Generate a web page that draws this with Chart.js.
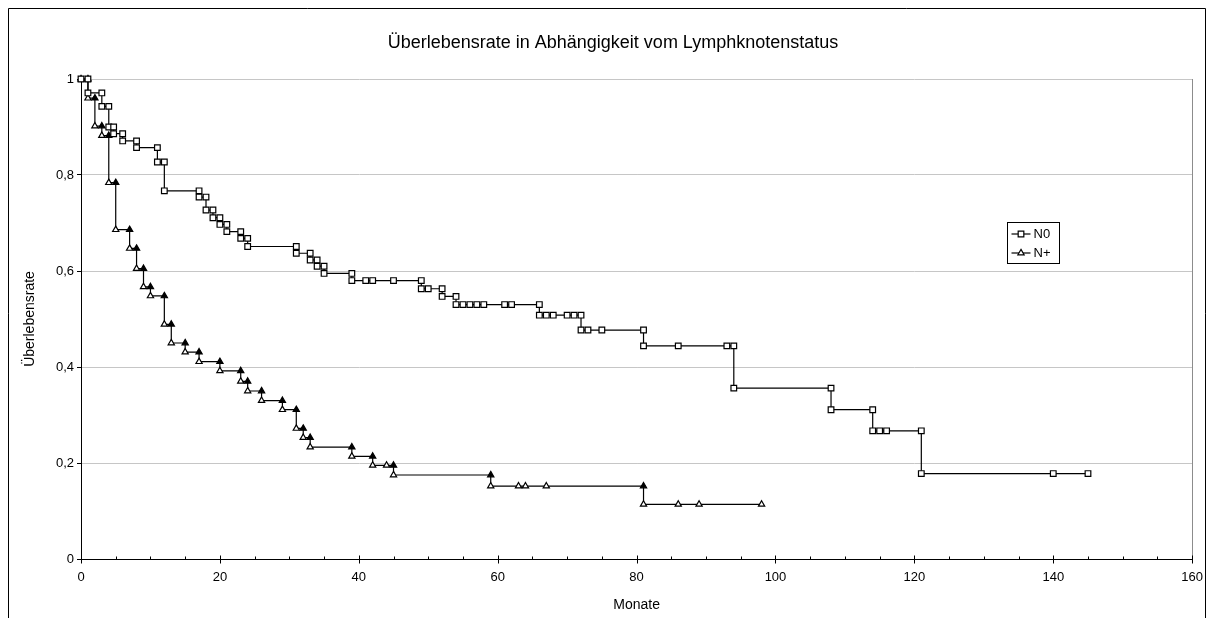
<!DOCTYPE html>
<html>
<head>
<meta charset="utf-8">
<script src="https://cdn.jsdelivr.net/npm/chart.js@4.4.1/dist/chart.umd.min.js"></script>
<style>
  html, body { margin: 0; padding: 0; background: #ffffff; }
  #wrap { width: 1214px; height: 618px; position: relative; }
</style>
</head>
<body>
<div id="wrap"><canvas id="c" width="1214" height="618"></canvas></div>
<script>
// Texts
const chartTitle = 'Überlebensrate in Abhängigkeit vom Lymphknotenstatus';
const xAxisTitle = 'Monate';
const yAxisTitle = 'Überlebensrate';
const seriesNames = ['N0', 'N+'];

// Axis ranges and tick steps
const xRange = [0, 160];
const xMinorStep = 5;
const xMajorStep = 20;
const yRange = [0, 1];
const yStep = 0.2;

// Kaplan-Meier step curve, N0 (months, survival); each step has a point at both corners
const n0Months = [0, 1, 1, 3, 3, 4, 4, 4.7, 4.7, 6, 6, 8, 8, 11, 11, 12, 12, 17, 17, 18, 18, 19, 19, 20,
  20, 21, 21, 23, 23, 24, 24, 31, 31, 33, 33, 34, 34, 35, 35, 39, 39, 41, 42, 45, 49, 49, 50, 52, 52, 54,
  54, 55, 56, 57, 58, 61, 62, 66, 66, 67, 68, 70, 71, 72, 72, 73, 75, 81, 81, 86, 93, 94, 94, 108, 108,
  114, 114, 115, 116, 121, 121, 140, 145];
const n0Survival = [1, 1, 0.971, 0.971, 0.943, 0.943, 0.9, 0.9, 0.886, 0.886, 0.871, 0.871, 0.857, 0.857,
  0.827, 0.827, 0.767, 0.767, 0.754, 0.754, 0.727, 0.727, 0.711, 0.711, 0.697, 0.697, 0.682, 0.682, 0.668,
  0.668, 0.651, 0.651, 0.637, 0.637, 0.623, 0.623, 0.61, 0.61, 0.595, 0.595, 0.58, 0.58, 0.58, 0.58, 0.58,
  0.563, 0.563, 0.563, 0.547, 0.547, 0.53, 0.53, 0.53, 0.53, 0.53, 0.53, 0.53, 0.53, 0.508, 0.508, 0.508,
  0.508, 0.508, 0.508, 0.477, 0.477, 0.477, 0.477, 0.444, 0.444, 0.444, 0.444, 0.356, 0.356, 0.311, 0.311,
  0.267, 0.267, 0.267, 0.267, 0.178, 0.178, 0.178];

// Kaplan-Meier step curve, N+ (months, survival)
const nPlusMonths = [0, 1, 1, 2, 2, 3, 3, 4, 4, 5, 5, 7, 7, 8, 8, 9, 9, 10, 10, 12, 12, 13, 13, 15, 15,
  17, 17, 20, 20, 23, 23, 24, 24, 26, 26, 29, 29, 31, 31, 32, 32, 33, 33, 39, 39, 42, 42, 44, 45, 45, 59,
  59, 63, 64, 67, 81, 81, 86, 89, 98];
const nPlusSurvival = [1, 1, 0.96, 0.96, 0.902, 0.902, 0.882, 0.882, 0.784, 0.784, 0.686, 0.686, 0.647,
  0.647, 0.605, 0.605, 0.567, 0.567, 0.548, 0.548, 0.489, 0.489, 0.45, 0.45, 0.431, 0.431, 0.411, 0.411,
  0.392, 0.392, 0.37, 0.37, 0.35, 0.35, 0.33, 0.33, 0.311, 0.311, 0.272, 0.272, 0.253, 0.253, 0.233, 0.233,
  0.214, 0.214, 0.195, 0.195, 0.195, 0.175, 0.175, 0.152, 0.152, 0.152, 0.152, 0.152, 0.114, 0.114, 0.114,
  0.114];

const FONT = "'Liberation Sans', Arial, sans-serif";

function toPoints(xs, ys) {
  return xs.map((x, i) => ({ x: x, y: ys[i] }));
}

// Triangles at the upper corner of a drop are drawn solid
function upperCornerFill(ctx) {
  const pts = ctx.dataset.data;
  const i = ctx.dataIndex;
  const p = pts[i], n = pts[i + 1];
  if (p && n && n.x === p.x && n.y < p.y) return '#000000';
  return '#ffffff';
}

// Outer frame, title, right border of the plot area and the x tick marks
const decorations = {
  id: 'decorations',
  beforeDraw(chart) {
    const c = chart.ctx;
    c.save();
    c.fillStyle = '#ffffff';
    c.fillRect(0, 0, chart.width, chart.height);
    c.strokeStyle = '#000000';
    c.lineWidth = 1;
    c.beginPath();
    c.moveTo(8.5, chart.height + 2);
    c.lineTo(8.5, 8.5);
    c.lineTo(1205.5, 8.5);
    c.lineTo(1205.5, chart.height + 2);
    c.stroke();
    c.fillStyle = '#000000';
    c.font = '18px ' + FONT;
    c.textAlign = 'center';
    c.textBaseline = 'middle';
    c.fillText(chartTitle, 613, 43);
    c.restore();
  },
  beforeDatasetsDraw(chart) {
    const c = chart.ctx;
    const a = chart.chartArea;
    const xs = chart.scales.x;
    c.save();
    c.strokeStyle = '#8c8c8c';
    c.lineWidth = 1;
    c.beginPath();
    c.moveTo(Math.round(a.right) + 0.5, a.top);
    c.lineTo(Math.round(a.right) + 0.5, a.bottom);
    c.stroke();
    c.strokeStyle = '#000000';
    const yb = Math.round(a.bottom) + 0.5;
    for (let v = xRange[0]; v <= xRange[1]; v += xMinorStep) {
      const px = Math.round(xs.getPixelForValue(v)) + 0.5;
      const major = v % xMajorStep === 0;
      c.beginPath();
      c.moveTo(px, yb - (major ? 4 : 3));
      c.lineTo(px, yb + (major ? 4 : 0));
      c.stroke();
    }
    c.restore();
  }
};

// Boxed legend inside the plot area
const boxLegend = {
  id: 'boxLegend',
  afterDraw(chart) {
    const c = chart.ctx;
    const bx = 1007.5, by = 222.5, bw = 52, bh = 41;
    c.save();
    c.fillStyle = '#ffffff';
    c.fillRect(bx, by, bw, bh);
    c.strokeStyle = '#000000';
    c.lineWidth = 1;
    c.strokeRect(bx, by, bw, bh);
    chart.data.datasets.forEach((ds, i) => {
      const y = by + 11.5 + i * 19;
      c.strokeStyle = ds.borderColor;
      c.lineWidth = ds.borderWidth;
      c.beginPath();
      c.moveTo(bx + 4, y);
      c.lineTo(bx + 23, y);
      c.stroke();
      c.fillStyle = '#ffffff';
      c.strokeStyle = '#000000';
      Chart.helpers.drawPoint(c, {
        pointStyle: ds.pointStyle,
        radius: ds.pointRadius,
        borderWidth: ds.pointBorderWidth
      }, bx + 13.5, y);
      c.fillStyle = '#000000';
      c.font = '13px ' + FONT;
      c.textAlign = 'left';
      c.textBaseline = 'middle';
      c.fillText(ds.label, bx + 26, y + 0.5);
    });
    c.restore();
  }
};

new Chart(document.getElementById('c'), {
  type: 'scatter',
  data: {
    datasets: [
      {
        label: seriesNames[0],
        data: toPoints(n0Months, n0Survival),
        showLine: true,
        clip: false,
        borderColor: '#000000',
        borderWidth: 1.2,
        pointStyle: 'rect',
        pointRadius: 4,
        pointBorderWidth: 1.2,
        pointBorderColor: '#000000',
        pointBackgroundColor: '#ffffff',
        tension: 0
      },
      {
        label: seriesNames[1],
        data: toPoints(nPlusMonths, nPlusSurvival),
        showLine: true,
        clip: false,
        borderColor: '#000000',
        borderWidth: 1.2,
        pointStyle: 'triangle',
        pointRadius: 3.6,
        pointBorderWidth: 1.2,
        pointBorderColor: '#000000',
        pointBackgroundColor: upperCornerFill,
        tension: 0
      }
    ]
  },
  options: {
    responsive: false,
    animation: false,
    devicePixelRatio: 1,
    layout: { padding: { top: 79, right: 21, bottom: 0, left: 0 } },
    plugins: {
      legend: { display: false },
      title: { display: false },
      tooltip: { enabled: false }
    },
    scales: {
      x: {
        type: 'linear',
        min: xRange[0],
        max: xRange[1],
        afterFit(scale) { scale.height = 59; },
        ticks: {
          stepSize: xMinorStep,
          autoSkip: false,
          maxRotation: 0,
          padding: 11,
          color: '#000000',
          font: { family: FONT, size: 13 },
          callback: (v) => (v % xMajorStep === 0 ? String(v) : '')
        },
        grid: { display: false, drawTicks: false },
        border: { display: true, color: '#000000', width: 1 },
        title: {
          display: true,
          text: xAxisTitle,
          color: '#000000',
          font: { family: FONT, size: 14 },
          padding: { top: 0, bottom: 4 }
        }
      },
      y: {
        type: 'linear',
        min: yRange[0],
        max: yRange[1],
        afterFit(scale) { scale.width = 81; },
        ticks: {
          stepSize: yStep,
          padding: 3,
          color: '#000000',
          font: { family: FONT, size: 13 },
          callback: (v) => String(Math.round(v * 10) / 10).replace('.', ',')
        },
        grid: {
          color: (ctx) => (ctx.tick && ctx.tick.value === 0 ? 'rgba(0,0,0,0)' : '#c6c6c6'),
          tickColor: '#000000',
          drawTicks: true,
          tickLength: 4,
          lineWidth: 1
        },
        border: { display: true, color: '#000000', width: 1 },
        title: {
          display: true,
          text: yAxisTitle,
          color: '#000000',
          font: { family: FONT, size: 14 },
          padding: { top: 22, bottom: 0 }
        }
      }
    }
  },
  plugins: [decorations, boxLegend]
});
</script>
</body>
</html>
